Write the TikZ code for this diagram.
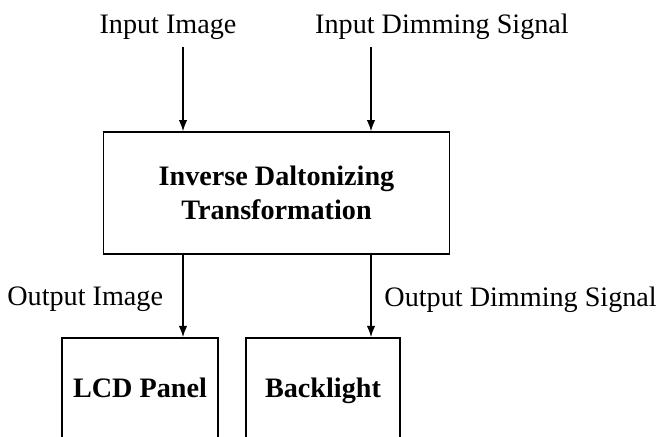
\documentclass[tikz,border=0pt]{standalone}
\usepackage{fontspec}
\setmainfont{Liberation Serif}
\usetikzlibrary{arrows.meta}
\tikzset{
  block/.style={draw, line width=0.5pt, align=center, font=\bfseries, text height=1.6ex, text depth=0.4ex},
  flow/.style={-{Latex[length=4pt,width=3pt]}, line width=0.5pt}
}
\begin{document}
\begin{tikzpicture}[x=0.355pt,y=-0.355pt]

% Fix the page size
\useasboundingbox (0,0) rectangle (662,437);
\clip (0,0) rectangle (662,437);

% Draw the blocks
\node[block, minimum width=123pt, minimum height=43.3pt, text height=, text depth=] (idt) at (276.5,193) {Inverse Daltonizing\\Transformation};
\node[block, minimum width=55.4pt, minimum height=37pt] (lcd) at (140,390) {LCD Panel};
\node[block, minimum width=54.7pt, minimum height=37pt] (bl) at (323,390) {Backlight};

%% Draw the inputs
\node (inimg) at (168,27) {Input Image};
\node (indim) at (442,27) {Input Dimming Signal};
\coordinate (a) at (183,47);
\coordinate (b) at (371,47);
\draw[flow] (a) -- (idt.north -| a);
\draw[flow] (b) -- (idt.north -| b);

%% Draw the outputs
\draw[flow] (idt.south -| a) -- (lcd.north -| a) node[midway, left=3.5pt, yshift=-1.2pt] {Output Image};
\draw[flow] (idt.south -| b) -- (bl.north -| b) node[midway, right=1.2pt, yshift=-1.2pt] {Output Dimming Signal};

\end{tikzpicture}
\end{document}
